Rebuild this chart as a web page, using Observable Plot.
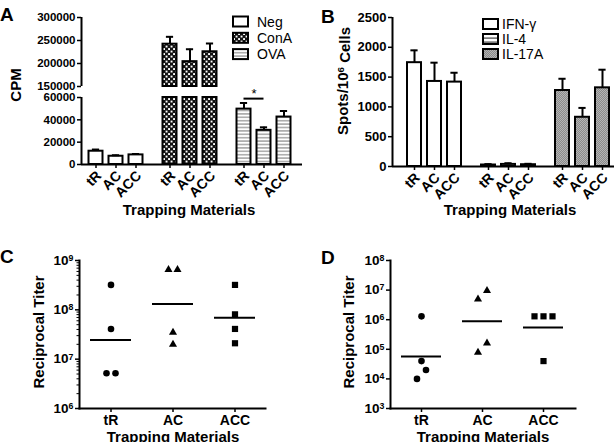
<!DOCTYPE html>
<html>
<head>
<meta charset="utf-8">
<script src="https://cdn.jsdelivr.net/npm/d3@7"></script>
<script src="https://cdn.jsdelivr.net/npm/@observablehq/plot@0.6"></script>
<style>
  body { margin: 0; background: #fff; }
  #chart { position: relative; width: 614px; height: 442px; overflow: hidden; background: #fff;
           font-family: "Liberation Sans", Arial, sans-serif; }
</style>
</head>
<body>
<div id="chart"></div>
<script>
// ---------------- DATA ----------------
const materials = ["tR", "AC", "ACC"];

// Panel A: proliferation (CPM), mean and error (SEM) per trapping material
const stimA = ["Neg", "ConA", "OVA"];
const cpmNeg = [11900, 7400, 8600];
const cpmNegErr = [1500, 900, 800];
const cpmConA = [242000, 204000, 225500];
const cpmConAErr = [16000, 27000, 18000];
const cpmOVA = [49600, 30600, 42500];
const cpmOVAErr = [5500, 2700, 5400];
const sigA = [{group: "OVA", from: "tR", to: "AC", value: 59000, label: "*"}];
const ticksAUpper = [150000, 200000, 250000, 300000];
const ticksALower = [0, 20000, 40000, 60000];

// Panel B: ELISpot (spots / 10^6 cells)
const cytokinesB = ["IFN-γ", "IL-4", "IL-17A"];
const spotsIFN = [1742, 1427, 1416];
const spotsIFNErr = [207, 315, 157];
const spotsIL4 = [25, 35, 30];
const spotsIL4Err = [15, 20, 15];
const spotsIL17 = [1275, 826, 1320];
const spotsIL17Err = [197, 157, 304];
const ticksB = [0, 500, 1000, 1500, 2000, 2500];

// Panel C: reciprocal titer
const titerC_tR = [3.2e8, 4.1e7, 5.2e6, 5.2e6];
const titerC_AC = [6.5e8, 6.5e8, 3.5e7, 2.0e7];
const titerC_ACC = [3.2e8, 8.1e7, 4.1e7, 2.1e7];
const ticksC = [1e6, 1e7, 1e8, 1e9];

// Panel D: reciprocal titer
const titerD_tR = [1.3e6, 4.0e4, 2.0e4, 1.0e4];
const titerD_AC = [9.6e6, 4.9e6, 1.6e5, 7.9e4];
const titerD_ACC = [1.3e6, 1.3e6, 1.3e6, 4.0e4];
const ticksD = [1e3, 1e4, 1e5, 1e6, 1e7, 1e8];

const xTitle = "Trapping Materials";

// ---------------- LAYOUT HELPERS ----------------
const W = 614, H = 442;
const FONT = '"Liberation Sans", Arial, sans-serif';
const GROUP_GAP = 3.7;   // slot units between group starts
const HALF = 0.35;       // half bar width (slot units)
const CAP = 0.18;        // half cap width

function baseStyle(extra = {}) {
  return Object.assign({position: "absolute", left: "0px", top: "0px", background: "transparent",
    overflow: "visible", fontFamily: FONT, fontWeight: "bold", color: "black"}, extra);
}

function barRows(groups, means, errs) {
  return groups.flatMap((g, gi) => materials.map((m, i) => ({
    group: g, mat: m, pos: gi * GROUP_GAP + i, value: means[gi][i], err: errs[gi][i]
  })));
}

function barMarks(rows, fills, yMin, yMax, withErr) {
  const marks = [];
  for (const g of Object.keys(fills)) {
    const data = rows.filter(r => r.group === g && r.value > yMin);
    marks.push(Plot.rectY(data, {
      x1: r => r.pos - HALF, x2: r => r.pos + HALF,
      y1: () => yMin, y2: r => Math.min(r.value, yMax),
      fill: fills[g], stroke: "black", strokeWidth: 2
    }));
    const ed = data.filter(r => withErr(r));
    marks.push(Plot.ruleX(ed, {x: "pos", y1: "value", y2: r => r.value + r.err, strokeWidth: 2}));
    marks.push(Plot.ruleY(ed, {y: r => r.value + r.err, x1: r => r.pos - CAP, x2: r => r.pos + CAP, strokeWidth: 2}));
  }
  return marks;
}

function rotatedLabels(rows) {
  return [
    Plot.axisX({ticks: rows.map(r => r.pos), tickFormat: () => "", tickSize: 4, strokeWidth: 1.5, label: null}),
    Plot.text(rows, {x: "pos", y: () => 0, text: "mat", rotate: -45, textAnchor: "end", lineAnchor: "middle",
      dx: 3, dy: 9, fontSize: 14})
  ];
}

const chart = document.getElementById("chart");

// ---------------- PANEL A ----------------
const rowsA = barRows(stimA, [cpmNeg, cpmConA, cpmOVA], [cpmNegErr, cpmConAErr, cpmOVAErr]);
const fillsA = {Neg: "white", ConA: "url(#pConA)", OVA: "url(#pOVA)"};
const xDomA = [-0.725, 10.325];

const aUpper = Plot.plot({
  width: W, height: H, marginLeft: 81, marginRight: W - 302, marginTop: 17, marginBottom: H - 86,
  x: {type: "linear", domain: xDomA, axis: null},
  y: {domain: [150000, 300000]},
  style: baseStyle(),
  marks: [
    ...barMarks(rowsA, {ConA: fillsA.ConA}, 150000, 300000, () => true),
    Plot.ruleX([xDomA[0]], {strokeWidth: 2}),
    Plot.axisY({ticks: ticksAUpper, tickFormat: d3.format("d"), tickSize: 4, tickPadding: 2,
                fontSize: 11.5, strokeWidth: 1.5, label: null})
  ]
});
chart.appendChild(aUpper);

const aLower = Plot.plot({
  width: W, height: H, marginLeft: 81, marginRight: W - 302, marginTop: 97, marginBottom: H - 164,
  x: {type: "linear", domain: xDomA},
  y: {domain: [0, 60000]},
  style: baseStyle(),
  marks: [
    ...barMarks(rowsA, fillsA, 0, 60000, r => r.value + r.err < 60000),
    Plot.ruleY(sigA, {y: "value",
      x1: s => rowsA.find(r => r.group === s.group && r.mat === s.from).pos,
      x2: s => rowsA.find(r => r.group === s.group && r.mat === s.to).pos, strokeWidth: 2}),
    Plot.text(sigA, {y: "value", text: "label", dy: -5, fontSize: 13, fontWeight: "normal",
      x: s => (rowsA.find(r => r.group === s.group && r.mat === s.from).pos +
               rowsA.find(r => r.group === s.group && r.mat === s.to).pos) / 2}),
    Plot.ruleX([xDomA[0]], {strokeWidth: 2}),
    Plot.ruleY([0], {strokeWidth: 2}),
    Plot.axisY({ticks: ticksALower, tickFormat: d3.format("d"), tickSize: 4, tickPadding: 2,
                fontSize: 11.5, strokeWidth: 1.5, label: null}),
    ...rotatedLabels(rowsA)
  ]
});
chart.appendChild(aLower);

// ---------------- PANEL B ----------------
const rowsB = barRows(cytokinesB, [spotsIFN, spotsIL4, spotsIL17], [spotsIFNErr, spotsIL4Err, spotsIL17Err]);
const fillsB = {"IFN-γ": "white", "IL-4": "url(#pIL4)", "IL-17A": "url(#pIL17)"};
const xDomB = [-1.1, 10.0];

const bPlot = Plot.plot({
  width: W, height: H, marginLeft: 392, marginRight: 0, marginTop: 17, marginBottom: H - 166,
  x: {type: "linear", domain: xDomB},
  y: {domain: [0, 2500]},
  style: baseStyle(),
  marks: [
    ...barMarks(rowsB, fillsB, 0, 2500, () => true),
    Plot.ruleX([xDomB[0]], {strokeWidth: 2}),
    Plot.ruleY([0], {strokeWidth: 2}),
    Plot.axisY({ticks: ticksB, tickFormat: d3.format("d"), tickSize: 4, tickPadding: 2,
                fontSize: 13, strokeWidth: 1.5, label: null}),
    ...rotatedLabels(rowsB)
  ]
});
chart.appendChild(bPlot);

// ---------------- PANELS C & D ----------------
const symbolsCD = ["circle", "triangle", "square"];
const symbolR = {circle: 3.3, triangle: 3.0, square: 3.5};

function scatterPanel({series, yDomain, ticks, minor, left, right, top, bottom}) {
  const pxPerDecade = (bottom - top) / (Math.log10(yDomain[1]) - Math.log10(yDomain[0]));
  const pts = [];
  series.forEach((vals, ci) => {
    const sorted = vals.slice().sort((a, b) => a - b);
    // group points that would overlap vertically, spread them side by side
    let cluster = [];
    const flush = () => {
      cluster.forEach((v, k) => pts.push({mat: materials[ci], value: v, slot: k - (cluster.length - 1) / 2}));
      cluster = [];
    };
    for (const v of sorted) {
      if (cluster.length && pxPerDecade * Math.log10(v / cluster[0]) >= 10) flush();
      cluster.push(v);
    }
    flush();
  });
  const means = series.map((vals, ci) => ({mat: materials[ci],
    value: Math.pow(10, d3.mean(vals, v => Math.log10(v)))}));
  const slots = Array.from(new Set(pts.map(p => p.slot)));
  const dotMarks = [];
  materials.forEach((m, ci) => {
    slots.forEach(s => {
      const data = pts.filter(p => p.mat === m && p.slot === s);
      if (data.length) dotMarks.push(Plot.dot(data, {x: "mat", y: "value", symbol: () => symbolsCD[ci],
        r: symbolR[symbolsCD[ci]], fill: "black", stroke: "none", dx: s * 9}));
    });
  });
  const marks = [
    Plot.tickY(means, {x: "mat", y: "value", strokeWidth: 2}),
    ...dotMarks,
    Plot.frame({anchor: "left", strokeWidth: 2}),
    Plot.frame({anchor: "bottom", strokeWidth: 2}),
    Plot.axisY({ticks, tickFormat: d => "10^" + Math.round(Math.log10(d)), tickSize: 4, tickPadding: 2,
                fontSize: 13.5, strokeWidth: 1.5, label: null}),
    Plot.axisX({tickSize: 4, tickPadding: 3, fontSize: 14, strokeWidth: 1.5, label: null})
  ];
  if (minor) marks.push(Plot.axisY({ticks: minor, tickFormat: () => "", tickSize: 2.5, strokeWidth: 1, label: null}));
  const svg = Plot.plot({
    width: W, height: H, marginLeft: left, marginRight: W - right, marginTop: top, marginBottom: H - bottom,
    x: {type: "band", domain: materials, paddingInner: 0.34, paddingOuter: 0.17},
    y: {type: "log", domain: yDomain},
    symbol: {type: "identity"},
    style: baseStyle(),
    marks
  });
  d3.select(svg).selectAll("text").each(function () {
    const t = this.textContent;
    if (t.startsWith("10^")) {
      const e = t.slice(3);
      this.textContent = "10";
      d3.select(this).append("tspan").attr("dy", "-0.45em").attr("font-size", "0.65em").text(e);
    }
  });
  return svg;
}

const minorC = [];
for (let p = 6; p < 9; p++) for (let k = 2; k <= 9; k++) minorC.push(k * Math.pow(10, p));

chart.appendChild(scatterPanel({series: [titerC_tR, titerC_AC, titerC_ACC], yDomain: [1e6, 1e9],
  ticks: ticksC, minor: minorC, left: 79, right: 265, top: 260, bottom: 408}));
chart.appendChild(scatterPanel({series: [titerD_tR, titerD_AC, titerD_ACC], yDomain: [1e3, 1e8],
  ticks: ticksD, minor: null, left: 390, right: 575, top: 260, bottom: 408}));

// ---------------- OVERLAY: patterns, titles, legends ----------------
const ov = d3.create("svg").attr("width", W).attr("height", H)
  .style("position", "absolute").style("left", "0px").style("top", "0px")
  .style("font-family", FONT);
const defs = ov.append("defs");
const pc = defs.append("pattern").attr("id", "pConA").attr("patternUnits", "userSpaceOnUse").attr("width", 5).attr("height", 5);
pc.append("rect").attr("width", 5).attr("height", 5).attr("fill", "#111");
pc.append("rect").attr("x", 0.6).attr("y", 0.6).attr("width", 1.9).attr("height", 1.9).attr("fill", "#fff");
pc.append("rect").attr("x", 3.1).attr("y", 3.1).attr("width", 1.9).attr("height", 1.9).attr("fill", "#fff");
const po = defs.append("pattern").attr("id", "pOVA").attr("patternUnits", "userSpaceOnUse").attr("width", 4).attr("height", 3.4);
po.append("rect").attr("width", 4).attr("height", 3.4).attr("fill", "#fff");
po.append("rect").attr("y", 1.2).attr("width", 4).attr("height", 1).attr("fill", "#777");
const p4 = defs.append("pattern").attr("id", "pIL4").attr("patternUnits", "userSpaceOnUse").attr("width", 4).attr("height", 4);
p4.append("rect").attr("width", 4).attr("height", 4).attr("fill", "#fff");
p4.append("rect").attr("y", 1.5).attr("width", 4).attr("height", 1.2).attr("fill", "#444");
const p17 = defs.append("pattern").attr("id", "pIL17").attr("patternUnits", "userSpaceOnUse").attr("width", 2).attr("height", 2);
p17.append("rect").attr("width", 2).attr("height", 2).attr("fill", "#8a8a8a");
p17.append("rect").attr("width", 1).attr("height", 1).attr("fill", "#b4b4b4");
p17.append("rect").attr("x", 1).attr("y", 1).attr("width", 1).attr("height", 1).attr("fill", "#b4b4b4");

function txt(x, y, s, {size = 15, weight = "bold", anchor = "start", rotate = 0} = {}) {
  return ov.append("text").attr("transform", `translate(${x},${y}) rotate(${rotate})`)
    .attr("font-size", size).attr("font-weight", weight).attr("text-anchor", anchor).attr("fill", "black").text(s);
}
// panel letters
txt(0, 21, "A", {size: 19});
txt(321, 23, "B", {size: 19});
txt(0, 263, "C", {size: 19});
txt(321, 264, "D", {size: 19});
// axis titles
txt(21, 85, "CPM", {anchor: "middle", rotate: -90});
const sp = txt(348, 81, "Spots/10", {anchor: "middle", rotate: -90});
sp.append("tspan").attr("dy", "-0.45em").attr("font-size", "0.65em").text("6");
sp.append("tspan").attr("dy", "0.45em").text(" Cells");
txt(44, 332, "Reciprocal Titer", {anchor: "middle", rotate: -90});
txt(354, 332, "Reciprocal Titer", {anchor: "middle", rotate: -90});
txt(189, 215, xTitle, {anchor: "middle"});
txt(510, 215, xTitle, {anchor: "middle"});
txt(173, 442, xTitle, {anchor: "middle"});
txt(483, 442, xTitle, {anchor: "middle"});
// legends
function legend(x, y0, dy, names, fills, textX) {
  names.forEach((n, i) => {
    const cy = y0 + i * dy;
    ov.append("rect").attr("x", x).attr("y", cy - 5).attr("width", 15).attr("height", 10)
      .attr("fill", fills[n]).attr("stroke", "black").attr("stroke-width", 2);
    txt(textX, cy + 5, n, {size: 14, weight: "normal"});
  });
}
legend(233, 21.5, 16.3, stimA, fillsA, 257);
legend(483, 24, 15, cytokinesB, fillsB, 502);

chart.appendChild(ov.node());
</script>
</body>
</html>
